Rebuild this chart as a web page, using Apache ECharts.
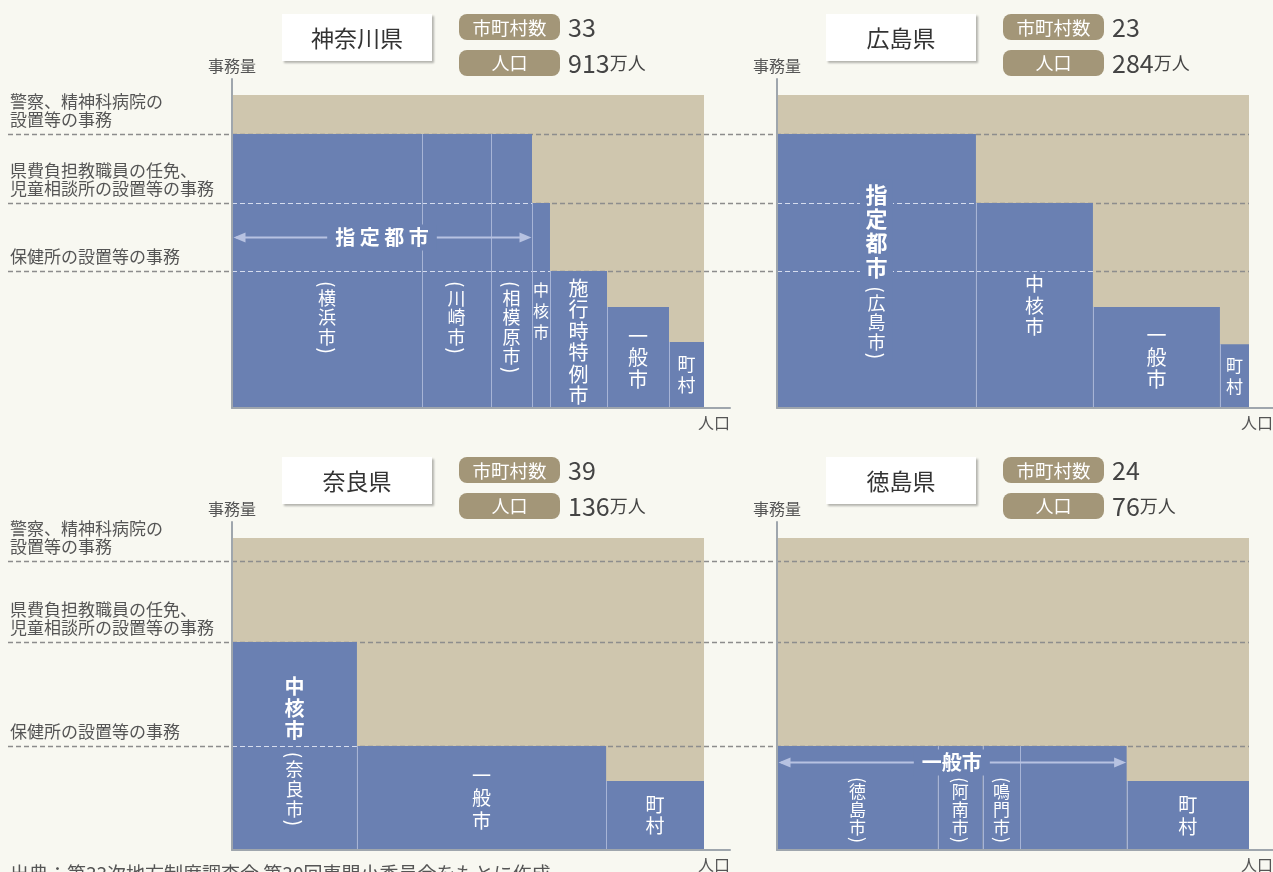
<!DOCTYPE html>
<html><head><meta charset="utf-8">
<script src="https://cdn.jsdelivr.net/npm/echarts@6/dist/echarts.min.js"></script>
<style>html,body{margin:0;padding:0;background:#f8f8f1}#c{width:1273px;height:872px}</style>
</head><body><div id="c"></div>
<script>
// ================= DATA =================
const levelLabels = ['保健所の設置等の事務', '県費負担教職員の任免、\n児童相談所の設置等の事務', '警察、精神科病院の\n設置等の事務'];
const topRowLevels = [43.8, 65.5, 87.5];      // 事務量 (relative)
const bottomRowLevels = [33.3, 66.7, 92.6];

const prefNames = ['神奈川県', '広島県', '奈良県', '徳島県'];
const municipalityCounts = [33, 23, 39, 24];
const populations = [913, 284, 136, 76];      // 万人

const kanagawaLabels = ['（横浜市）', '（川崎市）', '（相模原市）', '中核市', '施行時特例市', '一般市', '町村'];
const kanagawaPop = [367.5, 133.5, 79.3, 34.8, 110.3, 119.9, 67.7];
const kanagawaWork = [87.5, 87.5, 87.5, 65.5, 43.8, 32.3, 21.1];

const hiroshimaLabels = ['指定都市（広島市）', '中核市', '一般市', '町村'];
const hiroshimaPop = [119.7, 70.4, 76.4, 17.5];
const hiroshimaWork = [87.5, 65.5, 32.3, 20.4];

const naraLabels = ['中核市（奈良市）', '一般市', '町村'];
const naraPop = [36.0, 71.8, 28.2];
const naraWork = [66.7, 33.3, 22.1];

const tokushimaLabels = ['（徳島市）', '（阿南市）', '（鳴門市）', '', '町村'];
const tokushimaPop = [25.9, 7.2, 6.1, 17.1, 19.7];
const tokushimaWork = [33.3, 33.3, 33.3, 33.3, 22.1];

const footnote = '出典：第33次地方制度調査会 第30回専門小委員会をもとに作成';

// ================= STYLE / LAYOUT =================
const FONT = '"Noto Sans CJK JP", "Noto Sans", sans-serif';
const BG = '#f8f8f1', BEIGE = '#cfc6ae', BLUE = '#6a80b2', DIV = '#a7b4d6',
      ARROW = '#b7c2e1', AXIS = '#9fa6ad', DASH = '#8d8d8d', WDASH = '#d5dcee', BADGE = '#a39678';

const panels = [
  { title: 0, labels: kanagawaLabels, pop: kanagawaPop, work: kanagawaWork, levels: topRowLevels,
    left: 232, top: 79, width: 498, height: 329, yMax: 105.1, beigePx: 472, dx: 0, dy: 0, sideText: true,
    arrow: { from: 0, to: 2, y: 54.6, text: '指 定 都 市' },
    lab: [{ top: 40.8, fs: 18, lh: 19.5 }, { top: 40.8, fs: 18, lh: 19.5 }, { top: 40.8, fs: 18, lh: 19.5 }, { top: 41.1, fs: 16, lh: 21 }, { top: 41.7, fs: 20, lh: 21.5 }, { fs: 20, lh: 21.5 }, { fs: 18, lh: 21 }] },
  { title: 1, labels: hiroshimaLabels, pop: hiroshimaPop, work: hiroshimaWork, levels: topRowLevels,
    left: 777, top: 79, width: 496, height: 329, yMax: 105.1, beigePx: 472, dx: 544, dy: 0, sideText: false,
    lab: [{ bfs: 22, blh: 24.3, fs: 18, lh: 19.5, gap: 6, bg: true }, { fs: 19, lh: 21.5 }, { fs: 20, lh: 22 }, { fs: 17, lh: 21 }] },
  { title: 2, labels: naraLabels, pop: naraPop, work: naraWork, levels: bottomRowLevels,
    left: 232, top: 522, width: 498, height: 328, yMax: 105.13, beigePx: 472, dx: 0, dy: 443, sideText: true,
    lab: [{ bfs: 20, blh: 22, fs: 18, lh: 20, gap: 10, shift: 5 }, { fs: 19, lh: 22.5 }, { fs: 19, lh: 21.5 }] },
  { title: 3, labels: tokushimaLabels, pop: tokushimaPop, work: tokushimaWork, levels: bottomRowLevels,
    left: 777, top: 522, width: 496, height: 328, yMax: 105.13, beigePx: 472, dx: 544, dy: 443, sideText: false,
    arrow: { from: 0, to: 3, y: 28.2, text: '一般市' },
    lab: [{ fs: 17, lh: 18, ph: 6, pfs: 18, cap: 28.2, shift: 4 }, { fs: 17, lh: 18, ph: 6, pfs: 18, cap: 28.2, shift: 4 }, { fs: 17, lh: 18, ph: 6, pfs: 18, cap: 28.2, shift: 4 }, {}, { fs: 19, lh: 22 }] }
];

// vertical (tategaki) label made of one text element per character
function verticalItems(str, cfg) {
  const fs = cfg.fs || 19, lh = cfg.lh || 21.5, ph = cfg.ph || 8;
  const pi = str.indexOf('（');
  const boldEnd = pi > 0 ? pi : 0;
  const items = [];
  [...str].forEach((ch, k) => {
    if (ch === '（' || ch === '）') {
      if (k > 0 && k === boldEnd && cfg.gap) items.push({ gap: cfg.gap, h: cfg.gap });
      items.push({ ch: ch === '（' ? '(' : ')', h: ph, paren: true });
    } else if (k < boldEnd) items.push({ ch, h: cfg.blh || 24, fs: cfg.bfs || 22, bold: true });
    else items.push({ ch, h: lh, fs });
  });
  const H = items.reduce((s, it) => s + it.h, 0);
  return { items, H };
}

const grid = [], xAxis = [], yAxis = [], series = [], graphic = [];

panels.forEach((P, gi) => {
  const total = populations[P.title];
  grid.push({ left: P.left, top: P.top, width: P.width, height: P.height });
  const axisLine = { show: true, lineStyle: { color: AXIS, width: 2 } };
  xAxis.push({ type: 'value', gridIndex: gi, min: 0, max: total * P.width / P.beigePx, axisLine, axisTick: { show: false }, axisLabel: { show: false }, splitLine: { show: false }, z: 10 });
  yAxis.push({ type: 'value', gridIndex: gi, min: 0, max: P.yMax, axisLine, axisTick: { show: false }, axisLabel: { show: false }, splitLine: { show: false }, z: 10,
    name: '事務量', nameLocation: 'end', nameGap: 13,
    nameTextStyle: { color: '#555', fontSize: 16, fontFamily: FONT, align: 'center', verticalAlign: 'middle' } });

  // beige background (total population x full workload)
  series.push({ type: 'custom', xAxisIndex: gi, yAxisIndex: gi, z: 1, silent: true,
    data: [[0, total, 100]], encode: { x: [0, 1], y: 2 },
    renderItem: (params, api) => {
      const a = api.coord([api.value(0), api.value(2)]), b = api.coord([api.value(1), 0]);
      return { type: 'rect', shape: { x: a[0], y: a[1], width: b[0] - a[0], height: b[1] - a[1] }, style: { fill: BEIGE } };
    } });

  // gray dashed level lines + side texts (drawn once per row from left panel)
  if (P.sideText) {
    series.push({ type: 'custom', xAxisIndex: gi, yAxisIndex: gi, z: 2, silent: true,
      data: P.levels.map((lv, k) => [0, lv, k]), encode: { x: 0, y: 1 },
      renderItem: (params, api) => {
        const y = Math.round(api.coord([0, api.value(1)])[1]) + 0.5;
        const k = api.value(2);
        return { type: 'group', children: [
          { type: 'line', shape: { x1: 8, y1: y, x2: 1249, y2: y }, style: { stroke: DASH, lineWidth: 1.3, lineDash: [5, 3] } },
          { type: 'text', style: { text: levelLabels[k], x: 10, y: y - 6, fill: '#555', fontSize: 17, lineHeight: 18, fontFamily: FONT,
            align: 'left', verticalAlign: 'bottom' } }
        ] };
      } });
  }

  // municipality bars (width = population, height = workload)
  let acc = 0;
  const barData = P.pop.map((p, i) => { const d = [acc, acc + p, P.work[i], i]; acc += p; return d; });
  series.push({ type: 'custom', xAxisIndex: gi, yAxisIndex: gi, z: 3, silent: true,
    data: barData, encode: { x: [0, 1], y: 2 },
    renderItem: (params, api) => {
      const x0 = api.value(0), x1 = api.value(1), w = api.value(2), i = api.value(3);
      const tl = api.coord([x0, w]), br = api.coord([x1, 0]);
      const ch = [{ type: 'rect', shape: { x: tl[0], y: tl[1], width: br[0] - tl[0], height: br[1] - tl[1] }, style: { fill: BLUE } }];
      P.levels.forEach(lv => {
        if (lv < w - 0.5) {
          const y = Math.round(api.coord([0, lv])[1]) + 0.5;
          ch.push({ type: 'line', shape: { x1: tl[0], y1: y, x2: br[0], y2: y }, style: { stroke: WDASH, lineWidth: 1.2, lineDash: [5, 3] } });
        }
      });
      if (i > 0) {
        const h = Math.min(w, P.work[i - 1]);
        const yt = api.coord([x0, h])[1];
        const xl = Math.round(tl[0]) + 0.5;
        ch.push({ type: 'line', shape: { x1: xl, y1: yt, x2: xl, y2: br[1] }, style: { stroke: DIV, lineWidth: 1 } });
      }
      const label = P.labels[i];
      if (label) {
        const cfg = P.lab[i] || {};
        const { items, H } = verticalItems(label, cfg);
        const cx = (tl[0] + br[0]) / 2;
        let y0;
        if (cfg.top !== undefined) y0 = api.coord([0, cfg.top])[1];
        else { const capV = cfg.cap !== undefined ? Math.min(cfg.cap, w) : w; y0 = (api.coord([0, capV])[1] + br[1]) / 2 - H / 2; }
        y0 += cfg.shift || 0;
        if (cfg.bg) ch.push({ type: 'rect', shape: { x: cx - 16.5, y: y0 - 3, width: 33, height: H + 6 }, style: { fill: BLUE } });
        let yy = y0;
        items.forEach(it => {
          const cy = yy + it.h / 2;
          yy += it.h;
          if (it.gap) return;
          if (it.paren) {
            ch.push({ type: 'text', x: cx, y: cy, rotation: -Math.PI / 2,
              style: { text: it.ch, x: 0, y: 0, fill: '#fff', fontSize: cfg.pfs || 19, fontFamily: FONT, align: 'center', verticalAlign: 'middle' } });
          } else {
            ch.push({ type: 'text', style: { text: it.ch, x: cx, y: cy, fill: '#fff', fontSize: it.fs, fontWeight: it.bold ? 'bold' : 'normal', fontFamily: FONT, align: 'center', verticalAlign: 'middle' } });
          }
        });
      }
      return { type: 'group', children: ch };
    } });

  // double-headed arrow over a group of municipalities
  if (P.arrow) {
    const A = P.arrow;
    let s = 0; for (let k = 0; k < A.from; k++) s += P.pop[k];
    let e = 0; for (let k = 0; k <= A.to; k++) e += P.pop[k];
    series.push({ type: 'custom', xAxisIndex: gi, yAxisIndex: gi, z: 4, silent: true,
      data: [[s, e, A.y]], encode: { x: [0, 1], y: 2 },
      renderItem: (params, api) => {
        const a = api.coord([api.value(0), api.value(2)]), b = api.coord([api.value(1), api.value(2)]);
        const y = Math.round(a[1]) + 0.5, L = 12, H = 5;
        return { type: 'group', children: [
          { type: 'line', shape: { x1: a[0] + 4, y1: y, x2: b[0] - 4, y2: y }, style: { stroke: ARROW, lineWidth: 2 } },
          { type: 'polygon', shape: { points: [[a[0] + 1.5, y], [a[0] + 1.5 + L, y - H], [a[0] + 1.5 + L, y + H]] }, style: { fill: ARROW } },
          { type: 'polygon', shape: { points: [[b[0] - 0.5, y], [b[0] - 0.5 - L, y - H], [b[0] - 0.5 - L, y + H]] }, style: { fill: ARROW } },
          { type: 'text', style: { text: A.text, x: (a[0] + b[0]) / 2, y: y, fill: '#fff', fontSize: 20, fontWeight: 'bold', fontFamily: FONT,
            align: 'center', verticalAlign: 'middle', backgroundColor: BLUE, padding: [3, 8] } }
        ] };
      } });
  }

  // header: prefecture box, badges, values
  const dx = P.dx, dy = P.dy;
  const T = (o) => Object.assign({ fontFamily: FONT }, o);
  graphic.push(
    { type: 'rect', shape: { x: 282 + dx, y: 14 + dy, width: 150, height: 47 }, style: { fill: '#fff', shadowBlur: 2, shadowOffsetX: 1.5, shadowOffsetY: 1.5, shadowColor: 'rgba(0,0,0,0.28)' }, z: 5 },
    { type: 'text', style: T({ text: prefNames[P.title], x: 357 + dx, y: 38 + dy, fill: '#333', fontSize: 23, align: 'center', verticalAlign: 'middle' }), z: 6 },
    { type: 'rect', shape: { x: 459 + dx, y: 14 + dy, width: 101, height: 26, r: 8 }, style: { fill: BADGE }, z: 5 },
    { type: 'text', style: T({ text: '市町村数', x: 509.5 + dx, y: 27.5 + dy, fill: '#fff', fontSize: 18.5, align: 'center', verticalAlign: 'middle' }), z: 6 },
    { type: 'rect', shape: { x: 459 + dx, y: 50 + dy, width: 101, height: 26, r: 8 }, style: { fill: BADGE }, z: 5 },
    { type: 'text', style: T({ text: '人口', x: 509.5 + dx, y: 63.5 + dy, fill: '#fff', fontSize: 18, align: 'center', verticalAlign: 'middle' }), z: 6 },
    { type: 'text', style: T({ text: String(municipalityCounts[P.title]), x: 568 + dx, y: 27.5 + dy, fill: '#444', fontSize: 25, align: 'left', verticalAlign: 'middle' }), z: 6 },
    { type: 'text', style: T({ text: '{n|' + populations[P.title] + '}{u|万人}', x: 568 + dx, y: 63 + dy, fill: '#444',
      rich: { n: { fontSize: 25, fill: '#444', fontFamily: FONT }, u: { fontSize: 18, fill: '#444', fontFamily: FONT } },
      align: 'left', verticalAlign: 'middle' }), z: 6 },
    { type: 'text', style: T({ text: '人口', x: P.left + P.width, y: P.top + P.height + 15, fill: '#555', fontSize: 16, align: 'right', verticalAlign: 'middle' }), z: 6 }
  );
});

graphic.push({ type: 'text', style: { text: footnote, x: 10, y: 864, fill: '#555', fontSize: 19, fontFamily: FONT, align: 'left', verticalAlign: 'top' }, z: 6 });

const chart = echarts.init(document.getElementById('c'), null, { renderer: 'canvas' });
chart.setOption({
  backgroundColor: BG,
  animation: false,
  textStyle: { fontFamily: FONT },
  grid, xAxis, yAxis, series, graphic
});
</script></body></html>
